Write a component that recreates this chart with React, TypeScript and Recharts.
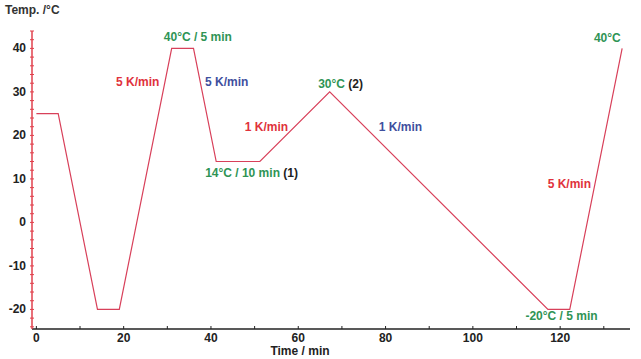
import { Line, LineChart, ReferenceDot, XAxis, YAxis } from "recharts";

// temperature program: segment end points
const timeMin = [0, 5, 14, 19, 31, 36, 41.2, 51.2, 67.2, 117.2, 122.2, 134.2];
const tempC = [25, 25, -20, -20, 40, 40, 14, 14, 30, -20, -20, 40];

const xTicks = [0, 10, 20, 30, 40, 50, 60, 70, 80, 90, 100, 110, 120, 130];
const yTicks = [-24, -22, -20, -18, -16, -14, -12, -10, -8, -6, -4, -2, 0, 2, 4, 6, 8, 10, 12, 14, 16, 18, 20, 22, 24, 26, 28, 30, 32, 34, 36, 38, 40, 42, 44];
const xLabelled = [0, 20, 40, 60, 80, 100, 120];
const yLabelled = [-20, -10, 0, 10, 20, 30, 40];

type Part = { text: string; tone: "green" | "red" | "blue" | "black" };
const notes: { x: number; y: number; parts: Part[] }[] = [
  { x: 37, y: 42.6, parts: [{ text: "40°C / 5 min", tone: "green" }] },
  { x: 23.2, y: 32.2, parts: [{ text: "5 K/min", tone: "red" }] },
  { x: 43.6, y: 32.2, parts: [{ text: "5 K/min", tone: "blue" }] },
  { x: 52.7, y: 22, parts: [{ text: "1 K/min", tone: "red" }] },
  { x: 69.7, y: 31.9, parts: [{ text: "30°C ", tone: "green" }, { text: "(2)", tone: "black" }] },
  { x: 83.4, y: 22, parts: [{ text: "1 K/min", tone: "blue" }] },
  { x: 49.3, y: 11.3, parts: [{ text: "14°C / 10 min ", tone: "green" }, { text: "(1)", tone: "black" }] },
  { x: 120.3, y: -21.5, parts: [{ text: "-20°C / 5 min", tone: "green" }] },
  { x: 122.1, y: 8.8, parts: [{ text: "5 K/min", tone: "red" }] },
  { x: 130.8, y: 42.4, parts: [{ text: "40°C", tone: "green" }] },
];

const TONES: Record<string, string> = {
  green: "#2f9455",
  red: "#e0323c",
  blue: "#3f4f9e",
  black: "#222",
};

const data = timeMin.map((t, i) => ({ t, temp: tempC[i] }));
const FONT = "'Liberation Sans', Arial, sans-serif";

function YTick(props: any) {
  const { x, y, payload } = props;
  const v = payload.value;
  const major = yLabelled.includes(v);
  return (
    <g>
      <line x1={x - 2} x2={x + 2} y1={y} y2={y} stroke="#e0404c" strokeWidth={1} />
      {major && (
        <text x={x - 6} y={y} dy={4} textAnchor="end" fontSize={12} fontWeight="bold" fontFamily={FONT} fill="#222">
          {v}
        </text>
      )}
    </g>
  );
}

function XTick(props: any) {
  const { x, y, payload } = props;
  const v = payload.value;
  return (
    <g>
      <line x1={x} x2={x} y1={y} y2={y - 3} stroke="#222" strokeWidth={1} />
      {xLabelled.includes(v) && (
        <text x={x} y={y} dy={13} textAnchor="middle" fontSize={12} fontWeight="bold" fontFamily={FONT} fill="#222">
          {v}
        </text>
      )}
    </g>
  );
}

function noteLabel(parts: Part[]) {
  return (props: any) => {
    const vb = props.viewBox || {};
    const cx = (vb.x ?? 0) + (vb.width ?? 0) / 2;
    const cy = (vb.y ?? 0) + (vb.height ?? 0) / 2;
    return (
      <text x={cx} y={cy} dy={4} textAnchor="middle" fontSize={12} fontWeight="bold" fontFamily={FONT}>
        {parts.map((p, i) => (
          <tspan key={i} fill={TONES[p.tone]}>
            {p.text}
          </tspan>
        ))}
      </text>
    );
  };
}

export default function App() {
  return (
    <div style={{ position: "absolute", left: 0, top: 0, width: 641, height: 359, background: "#fff" }}>
      <LineChart width={641} height={359} data={data} margin={{ top: 31, right: 11, bottom: 0, left: 0 }}>
        <XAxis
          dataKey="t"
          type="number"
          domain={[-1, 136]}
          ticks={xTicks}
          tick={<XTick />}
          tickLine={false}
          tickSize={0}
          tickMargin={0}
          height={30}
          axisLine={{ stroke: "#222", strokeWidth: 1.3 }}
          interval={0}
        />
        <YAxis
          type="number"
          domain={[-24.5, 44]}
          ticks={yTicks}
          tick={<YTick />}
          tickLine={false}
          tickSize={0}
          tickMargin={0}
          width={32}
          axisLine={{ stroke: "#e0404c", strokeWidth: 1.5 }}
          interval={0}
        />
        <Line
          type="linear"
          dataKey="temp"
          stroke="#d8405a"
          strokeWidth={1.2}
          dot={false}
          isAnimationActive={false}
        />
        {notes.map((n, i) => (
          <ReferenceDot
            key={i}
            x={n.x}
            y={n.y}
            r={0}
            fill="none"
            stroke="none"
            ifOverflow="visible"
            label={noteLabel(n.parts)}
          />
        ))}
      </LineChart>
      <div
        style={{ position: "absolute", left: 5, top: 3, fontFamily: FONT, fontWeight: "bold", fontSize: 12, color: "#333" }}
      >
        Temp. /°C
      </div>
      <div
        style={{
          position: "absolute",
          left: 250,
          width: 100,
          top: 344,
          lineHeight: "14px",
          textAlign: "center",
          fontFamily: FONT,
          fontWeight: "bold",
          fontSize: 12,
          color: "#222",
        }}
      >
        Time / min
      </div>
    </div>
  );
}
